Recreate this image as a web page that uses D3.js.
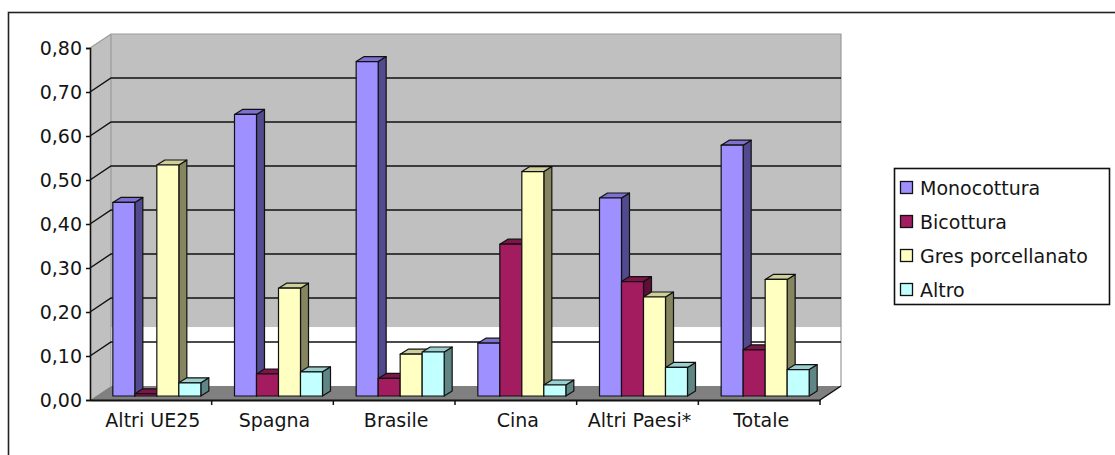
<!DOCTYPE html>
<html><head><meta charset="utf-8">
<script src="https://cdn.jsdelivr.net/npm/d3@7"></script>
<style>body{margin:0;background:#fff}svg{display:block}text{font-family:"DejaVu Sans",Verdana,sans-serif;fill:#151515}</style>
</head><body>
<svg id="c" width="1115" height="455"></svg>
<script>
const categories = ["Altri UE25","Spagna","Brasile","Cina","Altri Paesi*","Totale"];
const seriesNames = ["Monocottura","Bicottura","Gres porcellanato","Altro"];
const monocottura = [0.44, 0.64, 0.76, 0.12, 0.45, 0.57];
const bicottura   = [0.005, 0.05, 0.04, 0.345, 0.26, 0.105];
const gres        = [0.525, 0.245, 0.095, 0.51, 0.225, 0.265];
const altro       = [0.03, 0.055, 0.10, 0.025, 0.065, 0.06];
const yTicks = [0,0.1,0.2,0.3,0.4,0.5,0.6,0.7,0.8];
const yTickLabels = ["0,00","0,10","0,20","0,30","0,40","0,50","0,60","0,70","0,80"];

const series = [monocottura, bicottura, gres, altro];
const faceColors = [
  {front:"#9f90ff", side:"#524a8e", top:"#7c70d0"},
  {front:"#a31c60", side:"#5e0f36", top:"#7d1548"},
  {front:"#ffffc2", side:"#85855f", top:"#cfcf9a"},
  {front:"#c2ffff", side:"#5f8585", top:"#9acfcf"}
];

const svg = d3.select("#c");
const x0 = 90, x1 = 820, yBase = 400, yTop = 48;
const back = {dx:21, dy:-14};
const plane = {dx:6, dy:-4};
const depth = {dx:8, dy:-5};

const x = d3.scaleBand().domain(categories).range([x0, x1]);
const y = d3.scaleLinear().domain([0, 0.8]).range([yBase, yTop]);
const inner = d3.scaleBand().domain(d3.range(4)).range([0, 88]);

// outer frame
svg.append("rect").attr("x",8.5).attr("y",12.5).attr("width",1130).attr("height",470)
  .attr("fill","none").attr("stroke","#222").attr("stroke-width",1.6);

// back wall
const bx0 = x0+back.dx, bx1 = x1+back.dx, by0 = y(0.8)+back.dy, by1 = y(0)+back.dy;
svg.append("rect").attr("x",bx0).attr("y",by0).attr("width",bx1-bx0).attr("height",by1-by0).attr("fill","#c0c0c0");
svg.append("rect").attr("x",bx0).attr("y",y(0.134)+back.dy).attr("width",bx1-bx0).attr("height",by1-(y(0.134)+back.dy)).attr("fill","#ffffff");
// left wall
svg.append("polygon").attr("points",[[x0,y(0.8)],[bx0,by0],[bx0,by1],[x0,y(0)]].join(" ")).attr("fill","#c0c0c0");
// wall edges
svg.append("path").attr("d",`M${x0},${y(0.8)}L${bx0},${by0}L${bx1},${by0}L${bx1},${by1}M${bx0},${by0}L${bx0},${by1}`)
  .attr("fill","none").attr("stroke","#9a9a9a").attr("stroke-width",1.2);
// floor
svg.append("polygon").attr("points",[[x0,y(0)],[x1,y(0)],[bx1,by1],[bx0,by1]].join(" ")).attr("fill","#808080");

// gridlines
yTicks.filter(t=>t>0 && t<0.8).forEach(t=>{
  svg.append("path").attr("d",`M${x0},${y(t)}L${bx0},${y(t)+back.dy}L${bx1},${y(t)+back.dy}`)
    .attr("fill","none").attr("stroke","#111").attr("stroke-width",1.5);
});

// bars
categories.forEach((c, ci)=>{
  const left = x(c) + (x.bandwidth()-88)/2 + plane.dx;
  series.forEach((s, si)=>{
    const v = s[ci];
    const bx = left + inner(si), w = inner.bandwidth();
    const yt = y(v)+plane.dy, yb = y(0)+plane.dy;
    const col = faceColors[si];
    const g = svg.append("g").attr("stroke","#111").attr("stroke-width",1.2).attr("stroke-linejoin","round");
    g.append("polygon").attr("points",[[bx+w,yt],[bx+w+depth.dx,yt+depth.dy],[bx+w+depth.dx,yb+depth.dy],[bx+w,yb]].join(" ")).attr("fill",col.side);
    g.append("polygon").attr("points",[[bx,yt],[bx+depth.dx,yt+depth.dy],[bx+w+depth.dx,yt+depth.dy],[bx+w,yt]].join(" ")).attr("fill",col.top);
    g.append("rect").attr("x",bx).attr("y",yt).attr("width",w).attr("height",yb-yt).attr("fill",col.front);
  });
});

// right floor edge
svg.append("path").attr("d",`M${x1},${y(0)}L${bx1},${by1}`).attr("stroke","#111").attr("stroke-width",1.5);

// axes
const yAxis = d3.axisLeft(y).tickValues(yTicks).tickFormat((d,i)=>yTickLabels[i]).tickSize(4).tickPadding(4);
const ya = svg.append("g").attr("transform",`translate(${x0},0)`).call(yAxis);
ya.select(".domain").attr("stroke","#111").attr("stroke-width",1.6);
ya.selectAll(".tick line").attr("stroke","#111").attr("stroke-width",1.5);
ya.selectAll(".tick text").attr("font-size",19).attr("font-family","DejaVu Sans").attr("fill","#151515").attr("dy","0.36em");

const xAxis = d3.axisBottom(x).tickSize(0).tickPadding(14);
const xa = svg.append("g").attr("transform",`translate(0,${yBase})`).call(xAxis);
xa.select(".domain").attr("stroke","#111").attr("stroke-width",1.8);
xa.selectAll(".tick text").attr("font-size",19).attr("font-family","DejaVu Sans").attr("fill","#151515").attr("dx",2);
// category separator ticks
categories.slice(1).concat([null]).forEach((c,i)=>{
  const xx = c===null ? x1 : x(c);
  svg.append("line").attr("x1",xx).attr("x2",xx).attr("y1",yBase).attr("y2",yBase+5).attr("stroke","#111").attr("stroke-width",1.5);
});

// legend
const lg = svg.append("g");
lg.append("rect").attr("x",894.5).attr("y",168.5).attr("width",215).attr("height",136).attr("fill","#fff").attr("stroke","#111").attr("stroke-width",1.6);
seriesNames.forEach((n,i)=>{
  const cy = 188 + i*34;
  lg.append("rect").attr("x",900.5).attr("y",cy-6.5).attr("width",12).attr("height",12).attr("fill",faceColors[i].front).attr("stroke","#111").attr("stroke-width",1.3);
  lg.append("text").attr("x",920).attr("y",cy+7).attr("font-size",19).text(n);
});
</script>
</body></html>
